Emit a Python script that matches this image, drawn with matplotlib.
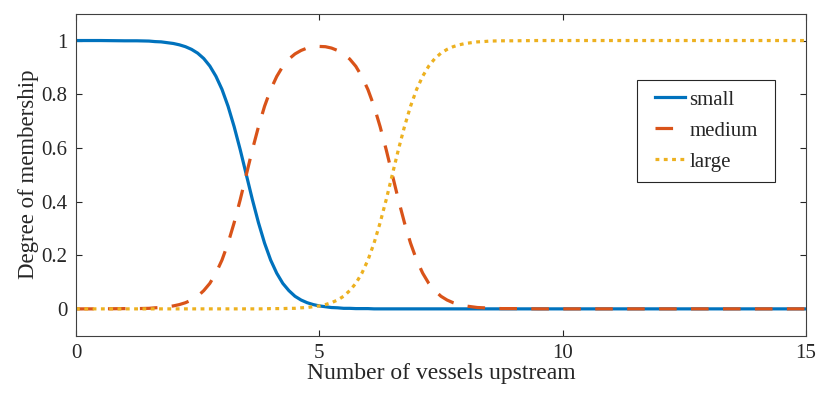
import matplotlib
matplotlib.use('Agg')
import matplotlib.pyplot as plt
from matplotlib.patches import Rectangle

# values
vessels = [0, 0.5, 1, 1.25,
           1.5, 1.625, 1.75, 1.875, 2, 2.125, 2.25, 2.375, 2.5, 2.625, 2.75, 2.875,
           3, 3.125, 3.25, 3.375, 3.5, 3.625, 3.75, 3.875,
           4, 4.125, 4.25, 4.375, 4.5, 4.625, 4.75, 4.875,
           5, 5.125, 5.25, 5.375, 5.5, 5.625, 5.75, 5.875,
           6, 6.125, 6.25, 6.375, 6.5, 6.625, 6.75, 6.875,
           7, 7.125, 7.25, 7.375, 7.5, 7.625, 7.75, 7.875, 8, 8.125, 8.25, 8.375, 8.5,
           8.75, 9, 9.5, 10, 12, 15]
small = [1.000, 1.000, 0.999, 0.999,
         0.998, 0.996, 0.995, 0.992, 0.989, 0.984, 0.977, 0.967, 0.953, 0.933, 0.905, 0.867,
         0.818, 0.755, 0.679, 0.593, 0.500, 0.407, 0.321, 0.245,
         0.182, 0.133, 0.095, 0.068, 0.047, 0.033, 0.023, 0.016,
         0.011, 0.008, 0.005, 0.004, 0.002, 0.002, 0.001, 0.001,
         0.001, 0, 0, 0, 0, 0, 0, 0,
         0, 0, 0, 0, 0, 0, 0, 0, 0, 0, 0, 0, 0,
         0, 0, 0, 0, 0, 0]
medium = [0, 0, 0.001, 0.001,
          0.002, 0.004, 0.005, 0.008, 0.011, 0.016, 0.023, 0.033, 0.047, 0.068, 0.095, 0.133,
          0.182, 0.245, 0.321, 0.407, 0.500, 0.593, 0.679, 0.755,
          0.817, 0.866, 0.904, 0.931, 0.950, 0.963, 0.972, 0.977,
          0.978, 0.977, 0.972, 0.963, 0.950, 0.931, 0.904, 0.866,
          0.817, 0.755, 0.679, 0.593, 0.500, 0.407, 0.321, 0.245,
          0.182, 0.133, 0.095, 0.068, 0.047, 0.033, 0.023, 0.016, 0.011, 0.008, 0.005, 0.004, 0.002,
          0.001, 0.001, 0, 0, 0, 0]
large = [0, 0, 0, 0,
         0, 0, 0, 0, 0, 0, 0, 0, 0, 0, 0, 0,
         0, 0, 0, 0, 0, 0, 0, 0,
         0.001, 0.001, 0.001, 0.002, 0.002, 0.004, 0.005, 0.008,
         0.011, 0.016, 0.023, 0.033, 0.047, 0.068, 0.095, 0.133,
         0.182, 0.245, 0.321, 0.407, 0.500, 0.593, 0.679, 0.755,
         0.818, 0.867, 0.905, 0.933, 0.953, 0.967, 0.977, 0.984, 0.989, 0.992, 0.995, 0.996, 0.998,
         0.999, 0.999, 1, 1, 1, 1]
labels = ['small', 'medium', 'large']
xticks = [0, 5, 10, 15]
yticks = [0, 0.2, 0.4, 0.6, 0.8, 1]
yticklabels = ['0', '0.2', '0.4', '0.6', '0.8', '1']

plt.rcParams['font.family'] = ['Liberation Serif', 'DejaVu Serif']
txt = '#262626'

fig = plt.figure(figsize=(8.19, 3.97), dpi=100)
ax = fig.add_axes([0.0928, 0.1544, 0.8912, 0.8111])

ax.plot(vessels, small, color='#0072BD', lw=2.3, label=labels[0])
ax.plot(vessels, medium, color='#D95319', lw=2.3, dashes=(5.5, 4.5), label=labels[1])
ax.plot(vessels, large, color='#EDB120', lw=2.3, dashes=(1.2, 1.4), label=labels[2])

ax.set_xlim(0, 15)
ax.set_ylim(-0.1, 1.1)
ax.set_xticks(xticks)
ax.set_xticklabels([str(t) for t in xticks])
ax.set_yticks(yticks)
ax.set_yticklabels(yticklabels)
ax.tick_params(direction='in', length=4, width=0.8, colors=txt, labelsize=15,
               top=True, right=True, pad=6)
for s in ax.spines.values():
    s.set_color('#404040')
    s.set_linewidth(0.8)

ax.set_xlabel('Number of vessels upstream', fontsize=17, color=txt, labelpad=0)
ax.set_ylabel('Degree of membership', fontsize=16.5, color=txt, labelpad=2)

# legend box drawn by hand so its padding can be wider than tall
box = Rectangle((0.769, 0.478), 0.189, 0.316, transform=ax.transAxes,
                facecolor='white', edgecolor='#262626', lw=0.8, zorder=4)
ax.add_patch(box)
leg = ax.legend(loc='center', bbox_to_anchor=(0.8636, 0.636), fontsize=15,
                frameon=False, handlelength=1.45, handletextpad=0.2,
                borderpad=0, labelspacing=0.55, borderaxespad=0)
leg.set_zorder(5)
for t in leg.get_texts():
    t.set_color(txt)

fig.savefig('out.png', dpi=100)
